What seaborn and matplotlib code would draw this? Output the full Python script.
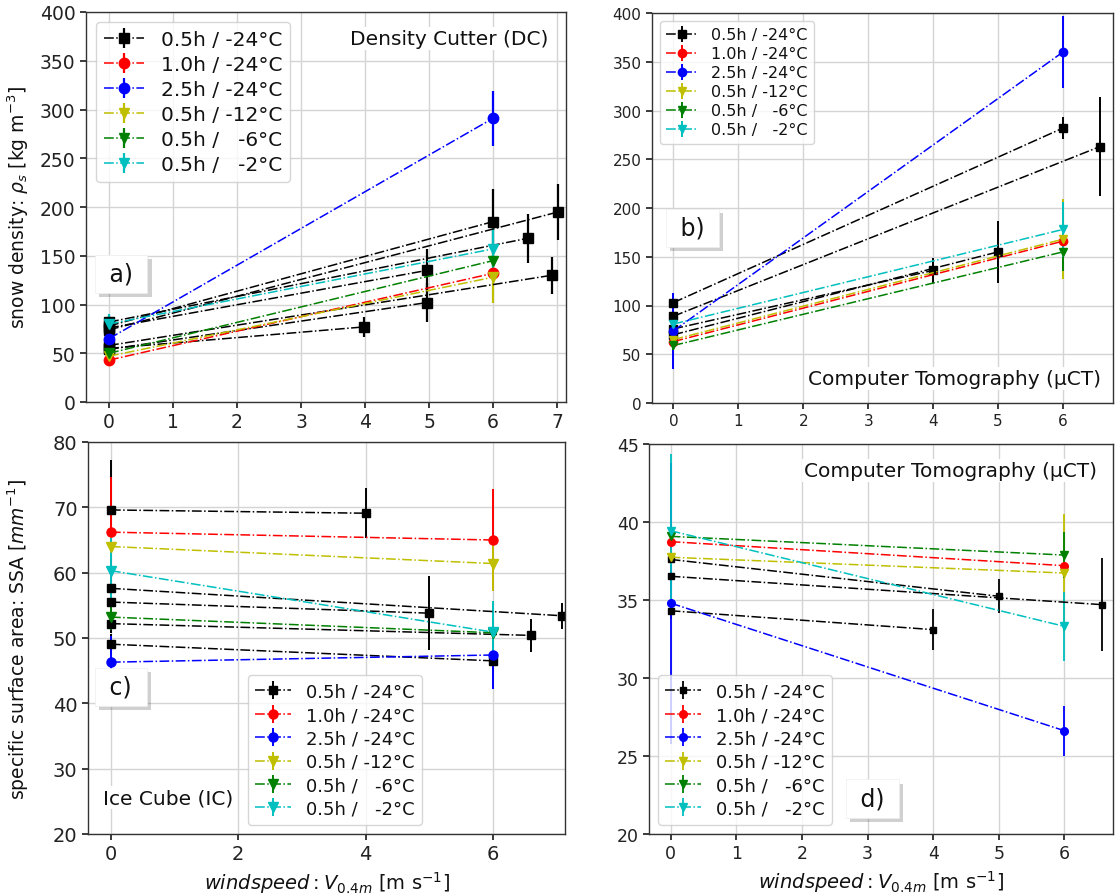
import matplotlib
matplotlib.use("Agg")
import matplotlib.pyplot as plt
import seaborn as sns
from matplotlib import patheffects as pe

# ---------------- data ----------------
labels = ["0.5h / -24°C", "1.0h / -24°C", "2.5h / -24°C",
          "0.5h / -12°C", "0.5h /   -6°C", "0.5h /   -2°C"]
colors = ["#000000", "#ff0000", "#0000ff", "#bfbf00", "#008000", "#00bfbf"]
markers = ["s", "o", "o", "v", "v", "v"]

# panel a) density cutter: each entry is one experiment run (start at 0 m/s, end at wind speed)
a_group = [0, 0, 0, 0, 0, 0, 0, 1, 2, 3, 4, 5]
a_x = [[0, 3.98], [0, 4.97], [0, 4.97], [0, 6], [0, 6.55], [0, 7.02], [0, 6.92],
       [0, 6], [0, 6], [0, 6], [0, 6], [0, 6]]
a_y = [[55, 77], [54, 102], [76, 135], [78, 185], [82, 168], [74, 195], [58, 130],
       [43, 132], [65, 291], [47, 128], [50, 145], [80, 157]]
a_err = [[5, 10], [5, 20], [5, 22], [6, 33], [6, 25], [5, 29], [5, 19],
         [3, 5], [5, 28], [3, 26], [3, 6], [10, 24]]

# panel b) micro-CT density
b_group = [0, 0, 0, 0, 1, 2, 3, 4, 5]
b_x = [[0, 6], [0, 6.57], [0, 4], [0, 5], [0, 6], [0, 6], [0, 6], [0, 6], [0, 6]]
b_y = [[103, 282], [89, 263], [76, 136], [70, 155], [63, 166], [74, 360],
       [65, 168], [59, 155], [81, 178]]
b_err = [[5, 11], [5, 51], [5, 13], [5, 32], [4, 5], [39, 37], [5, 41], [5, 20], [10, 28]]

# panel c) ice cube SSA
c_group = [0, 0, 0, 0, 0, 1, 2, 3, 4, 5]
c_x = [[0, 4], [0, 7.09], [0, 5], [0, 6.59], [0, 6], [0, 6], [0, 6], [0, 6], [0, 6], [0, 6]]
c_y = [[69.6, 69.1], [57.6, 53.4], [55.5, 53.8], [52.2, 50.4], [49.05, 46.5],
       [66.2, 65.0], [46.3, 47.4], [64.0, 61.4], [53.2, 50.8], [60.3, 50.9]]
c_err = [[7.6, 3.8], [1.5, 2.0], [1.5, 5.7], [1.5, 2.5], [1.5, 1.5],
         [8.5, 7.8], [4.0, 5.2], [2.0, 4.2], [2.0, 2.0], [5.0, 4.7]]

# panel d) micro-CT SSA
d_group = [0, 0, 0, 1, 2, 3, 4, 5]
d_x = [[0, 4], [0, 5], [0, 6.58], [0, 6], [0, 6], [0, 6], [0, 6], [0, 6]]
d_y = [[34.31, 33.1], [37.6, 35.24], [36.52, 34.7], [38.74, 37.2], [34.8, 26.62],
       [37.74, 36.73], [39.08, 37.88], [39.44, 33.31]]
d_err = [[0.5, 1.3], [0.5, 1.1], [0.5, 3.0], [0.5, 0.5], [9.0, 1.6],
         [0.5, 3.8], [0.5, 1.5], [4.9, 2.2]]

# ---------------- style ----------------
sns.set_theme(style="whitegrid", color_codes=False)
sns.set_style("whitegrid", {
    "axes.edgecolor": "#333333", "grid.color": "#d4d4d4",
    "xtick.bottom": True, "ytick.left": True,
    "xtick.color": "#222222", "ytick.color": "#222222",
    "text.color": "#111111", "axes.labelcolor": "#111111",
})
plt.rcParams["font.family"] = ["DejaVu Sans"]
plt.rcParams["mathtext.fontset"] = "dejavusans"
plt.rcParams["axes.linewidth"] = 1.0

fig = plt.figure(figsize=(11.15, 8.95), dpi=100)
W, H = 1115.0, 895.0


def rect(l, r, t, b):
    return [l / W, 1 - b / H, (r - l) / W, (b - t) / H]


ax_a = fig.add_axes(rect(86, 566, 13, 403))
ax_b = fig.add_axes(rect(652, 1113, 14, 404))
ax_c = fig.add_axes(rect(88, 565, 443, 835))
ax_d = fig.add_axes(rect(649, 1113, 445, 835))


def draw(ax, grp, xs, ys, es, ms, lw_err):
    seen = set()
    for g, x, y, e in zip(grp, xs, ys, es):
        lab = labels[g] if g not in seen else None
        seen.add(g)
        ax.errorbar(x, y, yerr=e, fmt=markers[g], ls="-.", lw=1.1, color=colors[g],
                    ms=ms if markers[g] != "s" else ms * 0.9,
                    elinewidth=lw_err, capsize=0, label=lab)


draw(ax_a, a_group, a_x, a_y, a_err, 7.5, 1.6)
draw(ax_b, b_group, b_x, b_y, b_err, 6.0, 1.4)
draw(ax_c, c_group, c_x, c_y, c_err, 6.5, 1.4)
draw(ax_d, d_group, d_x, d_y, d_err, 5.5, 1.3)

# limits & ticks
ax_a.set_xlim(-0.36, 7.14); ax_a.set_ylim(0, 400)
ax_a.set_xticks(range(0, 8)); ax_a.set_yticks(range(0, 401, 50))
ax_b.set_xlim(-0.33, 6.77); ax_b.set_ylim(0, 400)
ax_b.set_xticks(range(0, 7)); ax_b.set_yticks(range(0, 401, 50))
ax_c.set_xlim(-0.36, 7.13); ax_c.set_ylim(20, 80)
ax_c.set_xticks([0, 2, 4, 6]); ax_c.set_yticks(range(20, 81, 10))
ax_d.set_xlim(-0.33, 6.74); ax_d.set_ylim(20, 45)
ax_d.set_xticks(range(0, 7)); ax_d.set_yticks(range(20, 46, 5))

ax_a.tick_params(labelsize=13.5, length=4)
ax_b.tick_params(labelsize=11, length=4)
ax_c.tick_params(labelsize=14, length=4)
ax_d.tick_params(labelsize=12.5, length=4)

ax_a.set_ylabel(r"snow density: $\rho_s$ [kg m$^{-3}$]", fontsize=13.5)
ax_a.yaxis.set_label_coords(-0.115, 0.5)
ax_c.set_ylabel(r"specific surface area: SSA [$mm^{-1}$]", fontsize=13.5)
ax_c.yaxis.set_label_coords(-0.12, 0.5)
xl = r"$windspeed: V_{0.4m}$ [m s$^{-1}$]"
ax_c.set_xlabel(xl, fontsize=14)
ax_d.set_xlabel(xl, fontsize=14)

# legends
ax_a.legend(loc="upper left", fontsize=14.5, labelspacing=0.3, handletextpad=0.8)
ax_b.legend(loc="upper left", fontsize=11.5, labelspacing=0.25, handletextpad=0.8)
ax_c.legend(loc="lower left", bbox_to_anchor=(0.335, 0.023), borderaxespad=0,
            fontsize=13, labelspacing=0.3, handletextpad=0.8)
ax_d.legend(loc="lower left", fontsize=13, labelspacing=0.3, handletextpad=0.8)

# method annotations
wbox = dict(facecolor="white", edgecolor="none", pad=1.5)
ax_a.text(0.9625, 0.933, "Density Cutter (DC)", transform=ax_a.transAxes,
          ha="right", va="center", fontsize=14.5, bbox=wbox)
ax_b.text(0.975, 0.062, "Computer Tomography (μCT)", transform=ax_b.transAxes,
          ha="right", va="center", fontsize=14.5, bbox=wbox)
ax_c.text(0.031, 0.092, "Ice Cube (IC)", transform=ax_c.transAxes,
          ha="left", va="center", fontsize=14.5, bbox=wbox)
ax_d.text(0.966, 0.933, "Computer Tomography (μCT)", transform=ax_d.transAxes,
          ha="right", va="center", fontsize=14.5, bbox=wbox)

# panel letters in shadowed boxes
for ax, txt, px, py in [(ax_a, " a) ", 0.073, 0.329), (ax_b, " b) ", 0.088, 0.449),
                        (ax_c, " c) ", 0.069, 0.375), (ax_d, " d) ", 0.482, 0.091)]:
    t = ax.text(px, py, txt, transform=ax.transAxes, ha="center", va="center",
                fontsize=17, zorder=10,
                bbox=dict(boxstyle="square,pad=0.3", facecolor="white",
                          edgecolor="#eeeeee", linewidth=0.5))
    t.get_bbox_patch().set_path_effects([
        pe.SimplePatchShadow(offset=(3, -3), shadow_rgbFace="0.4", alpha=0.3),
        pe.Normal()])

fig.savefig("out.png", dpi=100)
